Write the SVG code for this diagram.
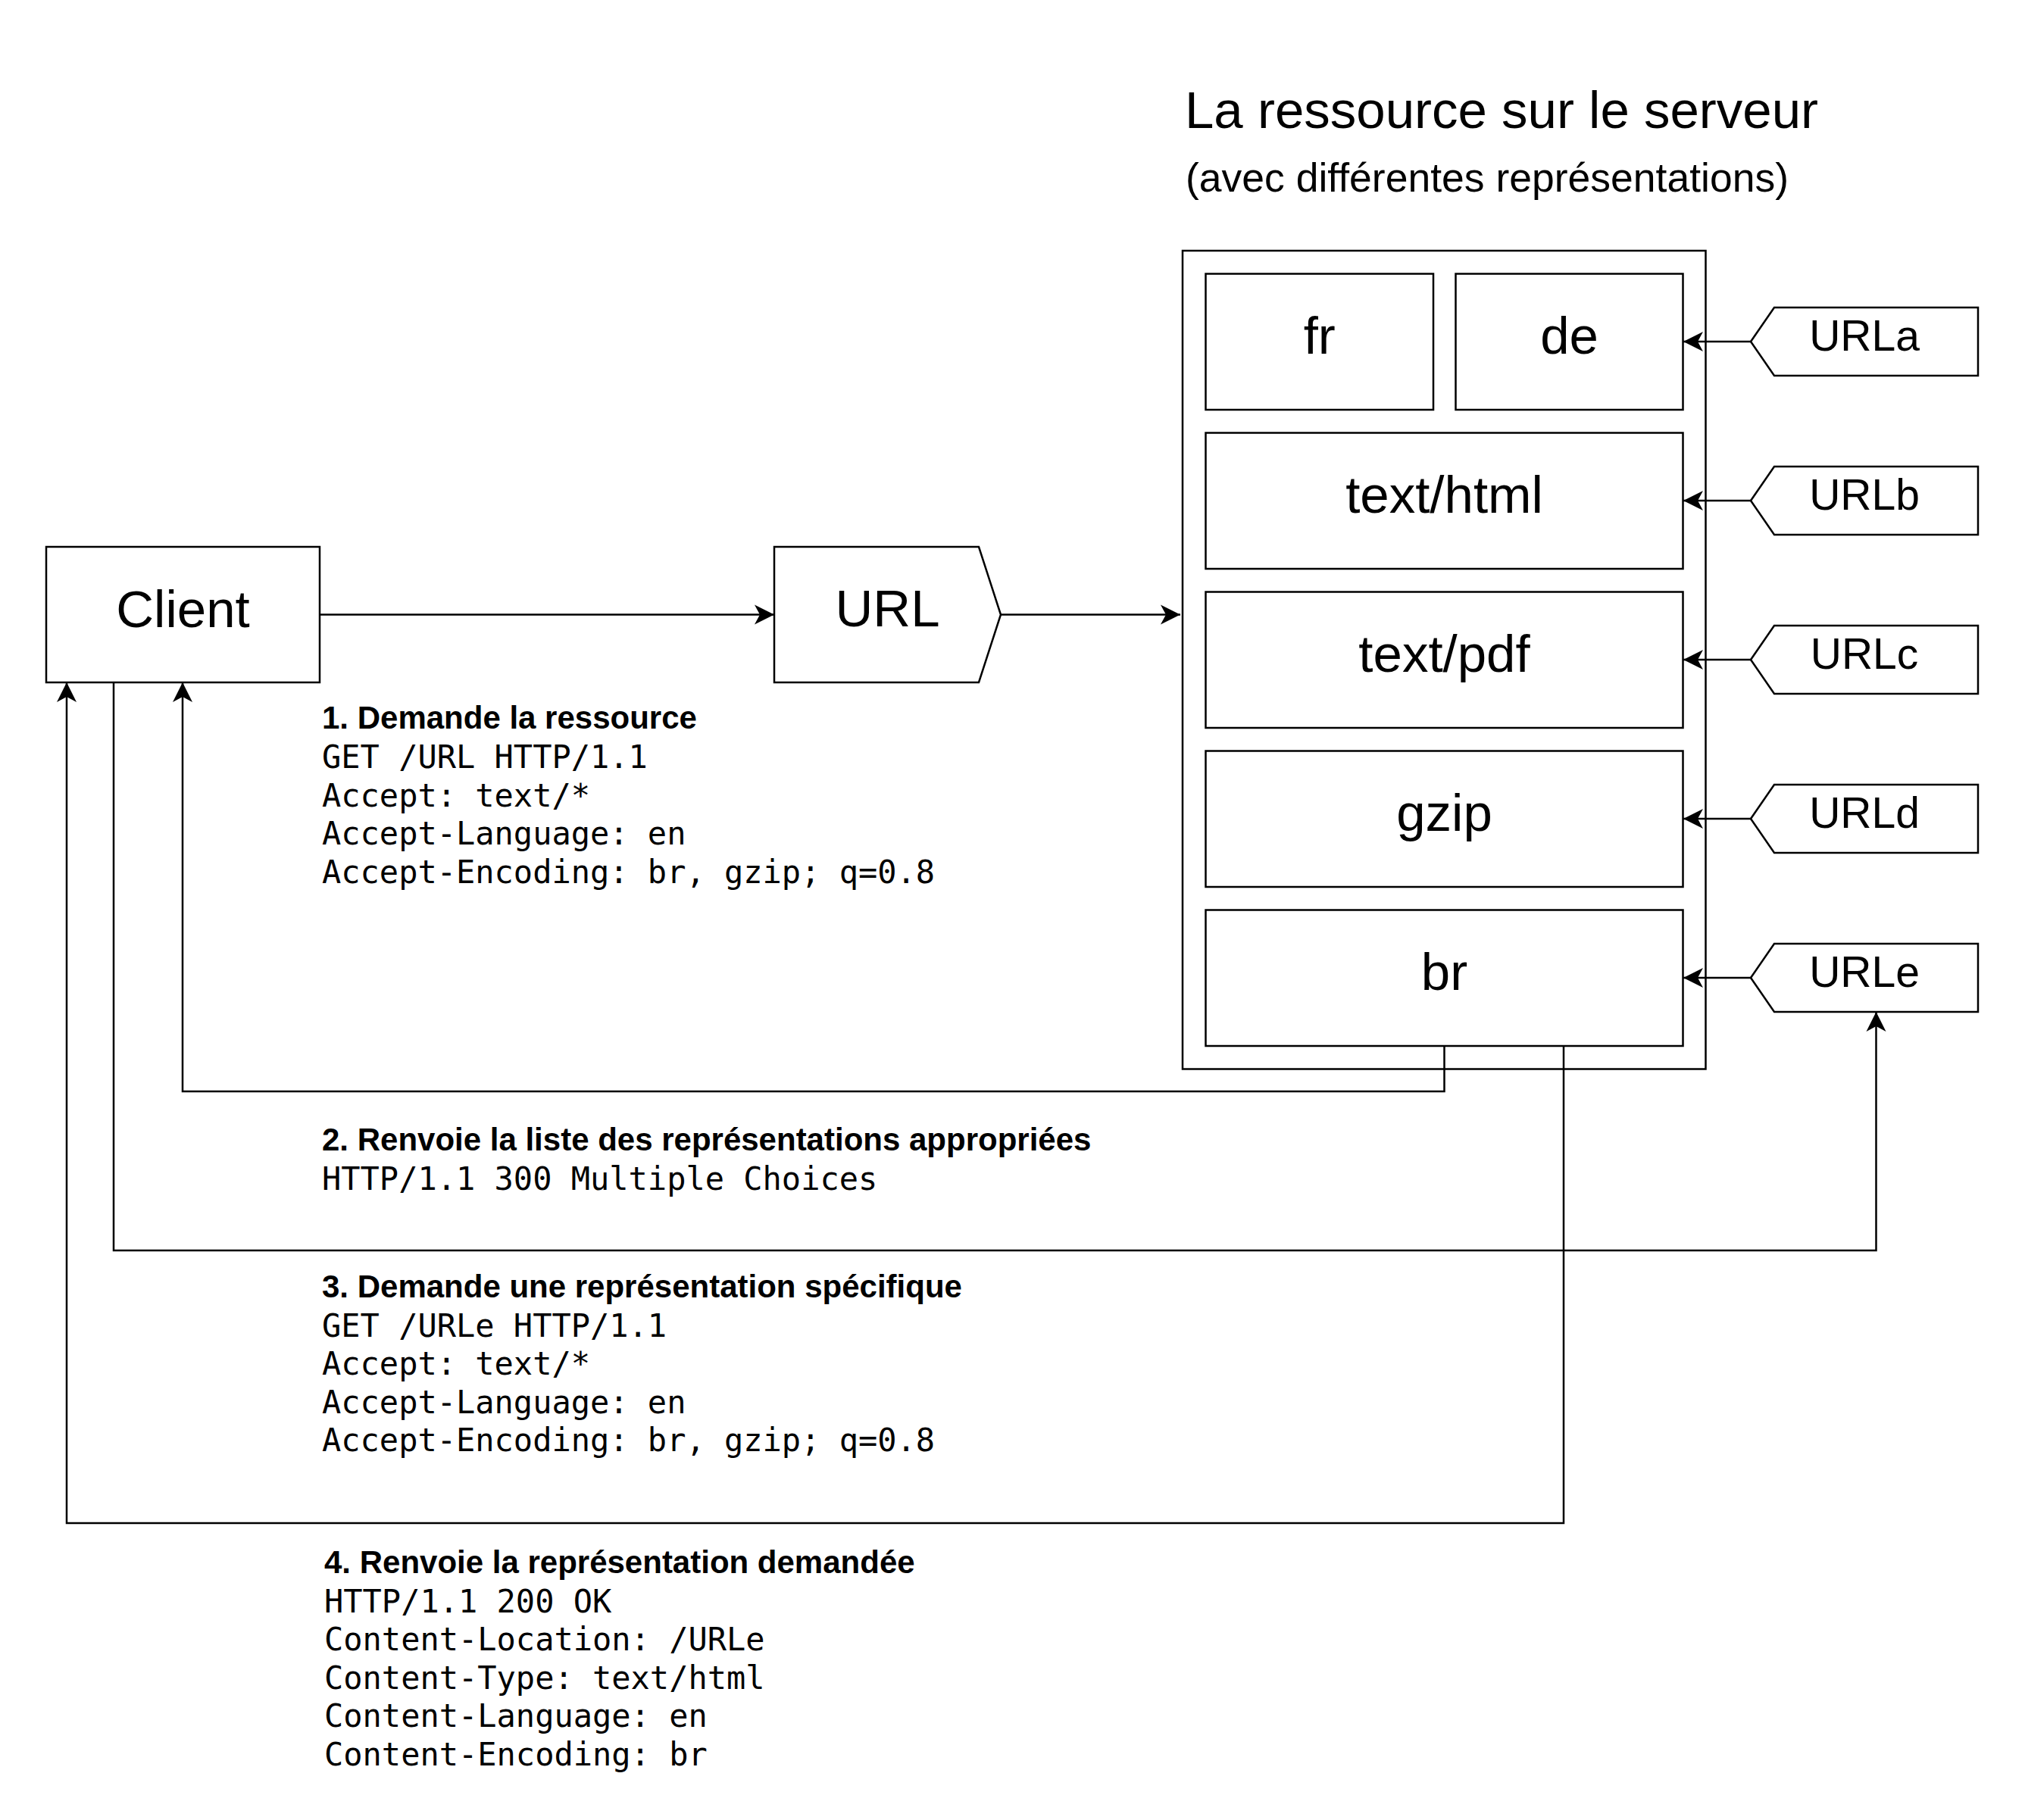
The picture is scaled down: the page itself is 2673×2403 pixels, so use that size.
<svg xmlns="http://www.w3.org/2000/svg" width="2673" height="2403" viewBox="0 0 2673 2403">
<style>
.box{fill:#fff;stroke:#000;stroke-width:2.5}
.edge{fill:none;stroke:#000;stroke-width:2.5}
.big{font-family:"Liberation Sans",Arimo,Arial,Helvetica,sans-serif;font-size:69px;text-anchor:middle;fill:#000}
.tag{font-family:"Liberation Sans",Arimo,Arial,Helvetica,sans-serif;font-size:57px;text-anchor:middle;fill:#000}
.title{font-family:"Liberation Sans",Arimo,Arial,Helvetica,sans-serif;fill:#000}
.head{font-family:"Liberation Sans",Arimo,Arial,Helvetica,sans-serif;font-size:42px;font-weight:bold;fill:#000}
.mono{font-family:"DejaVu Sans Mono","Liberation Mono",monospace;font-size:42px;fill:#000}
</style>
<defs>
<marker id="arr" markerUnits="userSpaceOnUse" markerWidth="32" markerHeight="32" viewBox="-29 -16 32 32" refX="0" refY="0" orient="auto">
<path d="M0,0 L-26,-13 L-19,0 L-26,13 Z" fill="#000"/>
</marker>
</defs>
<rect width="2673" height="2403" fill="#fff"/>

<g id="title">
<text class="title" x="1564" y="169" font-size="69">La ressource sur le serveur</text>
<text class="title" x="1565" y="253" font-size="53.5">(avec différentes représentations)</text>
</g>

<g id="client">
<rect class="box" x="61" y="722" width="361" height="179"/>
<text class="big" x="241.5" y="828">Client</text>
</g>

<g id="url">
<polygon class="box" points="1022,722 1292,722 1321,811.5 1292,901 1022,901"/>
<text class="big" x="1171.5" y="827">URL</text>
</g>

<g id="resource">
<rect class="box" x="1561" y="331" width="690.5" height="1080.5"/>
</g>

<g id="rep-fr">
<rect class="box" x="1591.5" y="361.5" width="300.5" height="179.5"/>
<text class="big" x="1741.75" y="467">fr</text>
</g>
<g id="rep-de">
<rect class="box" x="1921.5" y="361.5" width="300" height="179.5"/>
<text class="big" x="2071.5" y="467">de</text>
</g>
<g id="rep-html">
<rect class="box" x="1591.5" y="571.5" width="630" height="179.5"/>
<text class="big" x="1906.5" y="677">text/html</text>
</g>
<g id="rep-pdf">
<rect class="box" x="1591.5" y="781.5" width="630" height="179.5"/>
<text class="big" x="1906.5" y="887">text/pdf</text>
</g>
<g id="rep-gzip">
<rect class="box" x="1591.5" y="991.5" width="630" height="179.5"/>
<text class="big" x="1906.5" y="1097">gzip</text>
</g>
<g id="rep-br">
<rect class="box" x="1591.5" y="1201.5" width="630" height="179.5"/>
<text class="big" x="1906.5" y="1307">br</text>
</g>

<g id="urla">
<polygon class="box" points="2311,451 2342,406 2611,406 2611,496 2342,496"/>
<text class="tag" x="2461" y="463">URLa</text>
</g>
<g id="urlb">
<polygon class="box" points="2311,661 2342,616 2611,616 2611,706 2342,706"/>
<text class="tag" x="2461" y="673">URLb</text>
</g>
<g id="urlc">
<polygon class="box" points="2311,871 2342,826 2611,826 2611,916 2342,916"/>
<text class="tag" x="2461" y="883">URLc</text>
</g>
<g id="urld">
<polygon class="box" points="2311,1081 2342,1036 2611,1036 2611,1126 2342,1126"/>
<text class="tag" x="2461" y="1093">URLd</text>
</g>
<g id="urle">
<polygon class="box" points="2311,1291 2342,1246 2611,1246 2611,1336 2342,1336"/>
<text class="tag" x="2461" y="1303">URLe</text>
</g>

<g id="step1">
<text class="head" x="425" y="962">1. Demande la ressource</text>
<text class="mono" x="425" y="1014">GET /URL HTTP/1.1</text>
<text class="mono" x="425" y="1064.5">Accept: text/*</text>
<text class="mono" x="425" y="1115">Accept-Language: en</text>
<text class="mono" x="425" y="1165.5">Accept-Encoding: br, gzip; q=0.8</text>
</g>

<g id="step2">
<text class="head" x="425" y="1519">2. Renvoie la liste des représentations appropriées</text>
<text class="mono" x="425" y="1570.5">HTTP/1.1 300 Multiple Choices</text>
</g>

<g id="step3">
<text class="head" x="425" y="1713">3. Demande une représentation spécifique</text>
<text class="mono" x="425" y="1764.5">GET /URLe HTTP/1.1</text>
<text class="mono" x="425" y="1815">Accept: text/*</text>
<text class="mono" x="425" y="1865.5">Accept-Language: en</text>
<text class="mono" x="425" y="1916">Accept-Encoding: br, gzip; q=0.8</text>
</g>

<g id="step4">
<text class="head" x="428" y="2077">4. Renvoie la représentation demandée</text>
<text class="mono" x="428" y="2128.5">HTTP/1.1 200 OK</text>
<text class="mono" x="428" y="2179">Content-Location: /URLe</text>
<text class="mono" x="428" y="2229.5">Content-Type: text/html</text>
<text class="mono" x="428" y="2280">Content-Language: en</text>
<text class="mono" x="428" y="2330.5">Content-Encoding: br</text>
</g>

<g id="connectors">
<path class="edge" d="M422,811.5 H1022" marker-end="url(#arr)"/>
<path class="edge" d="M1321,811.5 H1558" marker-end="url(#arr)"/>
<path class="edge" d="M2311,451 H2222" marker-end="url(#arr)"/>
<path class="edge" d="M2311,661 H2222" marker-end="url(#arr)"/>
<path class="edge" d="M2311,871 H2222" marker-end="url(#arr)"/>
<path class="edge" d="M2311,1081 H2222" marker-end="url(#arr)"/>
<path class="edge" d="M2311,1291 H2222" marker-end="url(#arr)"/>
<path class="edge" d="M1906.5,1381 V1441 H241 V901" marker-end="url(#arr)"/>
<path class="edge" d="M150,901 V1651 H2476.5 V1336" marker-end="url(#arr)"/>
<path class="edge" d="M2064,1381 V2011 H88 V901" marker-end="url(#arr)"/>
</g>
</svg>
